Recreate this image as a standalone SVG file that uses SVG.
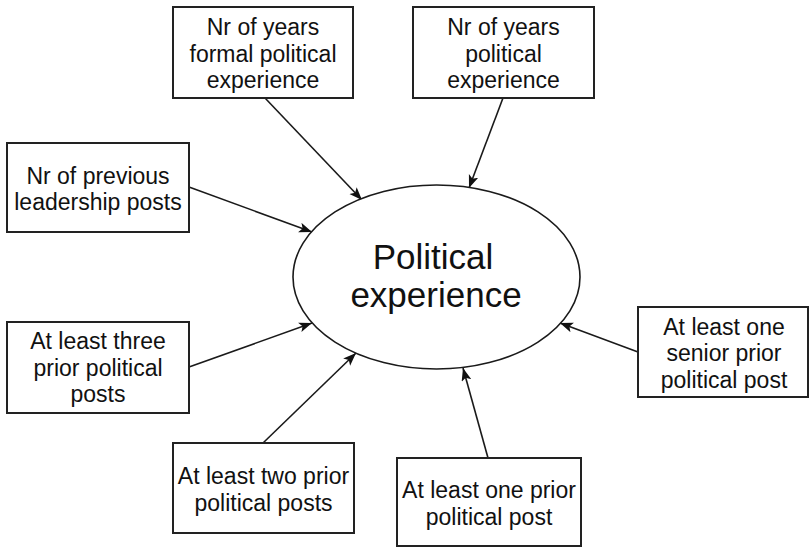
<svg xmlns="http://www.w3.org/2000/svg" width="809" height="548" viewBox="0 0 809 548">
  <style>
    .box { fill: #ffffff; stroke: #222222; stroke-width: 2; }
    .hub { fill: #ffffff; stroke: #1a1a1a; stroke-width: 1.6; }
    .lbl { font-family: "Liberation Sans", Arial, Helvetica, sans-serif; font-size: 23px; fill: #111111; text-anchor: middle; }
    .big { font-family: "Liberation Sans", Arial, Helvetica, sans-serif; font-size: 35px; fill: #111111; text-anchor: middle; }
    .edge { fill: none; stroke: #1a1a1a; stroke-width: 1.6; marker-end: url(#arrow); }
  </style>
  <defs>
    <marker id="arrow" markerUnits="userSpaceOnUse" markerWidth="14" markerHeight="12" refX="13" refY="5" orient="auto">
      <path d="M0,0 L13,5 L0,10 L3,5 z" fill="#111111"/>
    </marker>
  </defs>
  <rect width="809" height="548" fill="#ffffff"/>

  <!-- connectors: each indicator points at the central construct -->
  <g id="connectors">
    <line class="edge" x1="265" y1="98" x2="362" y2="200"/>
    <line class="edge" x1="503" y1="98" x2="469" y2="188"/>
    <line class="edge" x1="189" y1="187" x2="312" y2="232"/>
    <line class="edge" x1="189" y1="367" x2="312" y2="323"/>
    <line class="edge" x1="263" y1="443" x2="356" y2="353"/>
    <line class="edge" x1="488" y1="458" x2="463" y2="368"/>
    <line class="edge" x1="638" y1="352" x2="560" y2="323"/>
  </g>

  <g id="political-experience">
    <ellipse class="hub" cx="436.5" cy="277" rx="143.5" ry="92"/>
    <text class="big" x="433" y="269">Political</text>
    <text class="big" x="436" y="307">experience</text>
  </g>

  <g id="years-formal">
    <rect class="box" x="173" y="7" width="180" height="91"/>
    <text class="lbl" x="263" y="35">Nr of years</text>
    <text class="lbl" x="263" y="61.5">formal political</text>
    <text class="lbl" x="263" y="88">experience</text>
  </g>

  <g id="years-political">
    <rect class="box" x="413" y="7" width="181" height="91"/>
    <text class="lbl" x="503.5" y="35">Nr of years</text>
    <text class="lbl" x="503.5" y="61.5">political</text>
    <text class="lbl" x="503.5" y="88">experience</text>
  </g>

  <g id="leadership-posts">
    <rect class="box" x="7" y="143" width="182" height="89"/>
    <text class="lbl" x="98" y="183.5">Nr of previous</text>
    <text class="lbl" x="98" y="210">leadership posts</text>
  </g>

  <g id="three-posts">
    <rect class="box" x="7" y="322" width="182" height="91"/>
    <text class="lbl" x="98" y="349">At least three</text>
    <text class="lbl" x="98" y="375.5">prior political</text>
    <text class="lbl" x="98" y="402">posts</text>
  </g>

  <g id="two-posts">
    <rect class="box" x="173" y="443" width="181" height="90"/>
    <text class="lbl" x="263.5" y="484">At least two prior</text>
    <text class="lbl" x="263.5" y="510.5">political posts</text>
  </g>

  <g id="one-post">
    <rect class="box" x="397" y="458" width="184" height="88"/>
    <text class="lbl" x="489" y="497.5">At least one prior</text>
    <text class="lbl" x="489" y="524.5">political post</text>
  </g>

  <g id="senior-post">
    <rect class="box" x="638" y="307" width="170" height="90"/>
    <text class="lbl" x="724" y="334.5">At least one</text>
    <text class="lbl" x="724" y="361">senior prior</text>
    <text class="lbl" x="724" y="388">political post</text>
  </g>
</svg>
